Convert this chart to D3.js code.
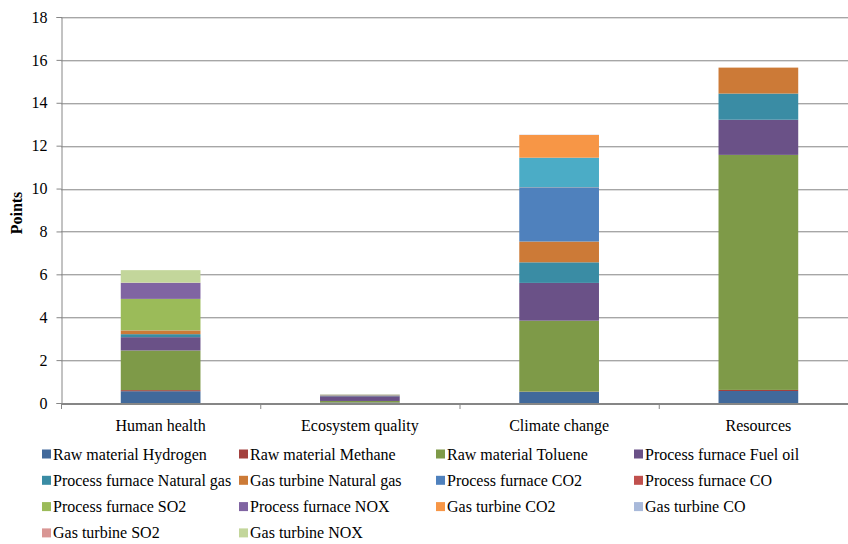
<!DOCTYPE html>
<html>
<head>
<meta charset="utf-8">
<script src="https://cdn.jsdelivr.net/npm/d3@7"></script>
<style>
html,body{margin:0;padding:0;background:#fff;}
svg{display:block;font-family:"Liberation Serif","Times New Roman",serif;}
</style>
</head>
<body>
<svg id="chart" width="848" height="544"></svg>
<script>
const categories = ["Human health", "Ecosystem quality", "Climate change", "Resources"];
const seriesNames = [
  "Raw material Hydrogen", "Raw material Methane", "Raw material Toluene", "Process furnace Fuel oil",
  "Process furnace Natural gas", "Gas turbine Natural gas", "Process furnace CO2", "Process furnace CO",
  "Process furnace SO2", "Process furnace NOX", "(unlabelled)", "Gas turbine CO2",
  "Gas turbine CO", "Gas turbine SO2", "Gas turbine NOX"
];
const inLegend = [true,true,true,true,true,true,true,true,true,true,false,true,true,true,true];
const seriesColors = [
  "#41699B", "#A3403E", "#7E9A48", "#6A5187",
  "#3A8CA4", "#CC7A37", "#4F81BD", "#C0504D",
  "#9BBB59", "#8064A2", "#4BACC6", "#F79646",
  "#A8B9DA", "#D99694", "#C3D69B"
];
// values per series: [Human health, Ecosystem quality, Climate change, Resources]
const hydrogen   = [0.55, 0.02, 0.52, 0.56];
const methane    = [0.05, 0.005, 0.01, 0.05];
const toluene    = [1.85, 0.07, 3.31, 10.96];
const fuelOil    = [0.62, 0.22, 1.76, 1.64];
const pfNatGas   = [0.14, 0.01, 0.96, 1.22];
const gtNatGas   = [0.17, 0.01, 0.97, 1.21];
const pfCO2      = [0, 0, 2.52, 0];
const pfCO       = [0.005, 0, 0.01, 0];
const pfSO2      = [1.47, 0.02, 0, 0];
const pfNOX      = [0.75, 0.03, 0, 0];
const unlabelled = [0, 0, 1.38, 0];
const gtCO2      = [0, 0, 1.06, 0];
const gtCO       = [0, 0, 0.01, 0];
const gtSO2      = [0.01, 0, 0, 0];
const gtNOX      = [0.58, 0.02, 0, 0];
const seriesValues = [hydrogen, methane, toluene, fuelOil, pfNatGas, gtNatGas, pfCO2, pfCO,
  pfSO2, pfNOX, unlabelled, gtCO2, gtCO, gtSO2, gtNOX];
const yTicks = [0, 2, 4, 6, 8, 10, 12, 14, 16, 18];
const yLabel = "Points";

const svg = d3.select("#chart");
const mLeft = 61, mRight = 858, mTop = 17, mBottom = 403;

const x = d3.scaleBand().domain(categories).range([mLeft, mRight]).padding(0);
const y = d3.scaleLinear().domain([0, 18]).range([mBottom, mTop]);
const barW = x.bandwidth() * 0.4;

const table = categories.map((c, i) => {
  const row = {category: c};
  seriesNames.forEach((s, j) => row[s] = seriesValues[j][i]);
  return row;
});
const stack = d3.stack().keys(seriesNames)(table);

// gridlines
const gridTicks = yTicks.filter(t => t > 0);
svg.append("g").selectAll("line").data(gridTicks).join("line")
  .attr("x1", mLeft).attr("x2", mRight)
  .attr("y1", d => Math.round(y(d)) + 0.5).attr("y2", d => Math.round(y(d)) + 0.5)
  .attr("stroke", "#A6A6A6").attr("stroke-width", 1);
svg.append("g").selectAll("line").data(gridTicks).join("line")
  .attr("x1", mLeft).attr("x2", mRight)
  .attr("y1", d => Math.round(y(d)) + 1.5).attr("y2", d => Math.round(y(d)) + 1.5)
  .attr("stroke", "#DDDDDD").attr("stroke-width", 1);

// bars
const color = d3.scaleOrdinal().domain(seriesNames).range(seriesColors);
svg.append("g").selectAll("g").data(stack).join("g")
  .attr("fill", d => color(d.key))
  .selectAll("rect").data(d => d).join("rect")
  .attr("x", d => x(d.data.category) + (x.bandwidth() - barW) / 2)
  .attr("width", barW)
  .attr("y", d => y(d[1]))
  .attr("height", d => Math.max(0, y(d[0]) - y(d[1])));

// y axis
const yAxis = d3.axisLeft(y).tickValues(yTicks).tickSize(5).tickPadding(9);
const gy = svg.append("g").attr("transform", `translate(${mLeft + 0.5},0)`).call(yAxis);
gy.select(".domain").attr("stroke", "#868686");
gy.selectAll(".tick line").attr("stroke", "#868686");
gy.selectAll(".tick text").attr("font-size", 16).attr("fill", "#000")
  .attr("font-family", "'Liberation Serif','Times New Roman',serif");

// x axis
const xAxis = d3.axisBottom(x).tickSize(0).tickPadding(16);
const gx = svg.append("g").attr("transform", `translate(0,${mBottom + 0.5})`).call(xAxis);
gx.select(".domain").attr("stroke", "#868686").attr("stroke-width", 2);
gx.selectAll(".tick text").attr("font-size", 16).attr("fill", "#000")
  .attr("font-family", "'Liberation Serif','Times New Roman',serif");
svg.append("g").selectAll("line").data(categories).join("line")
  .attr("x1", d => x(d) + 0.5).attr("x2", d => x(d) + 0.5)
  .attr("y1", mBottom).attr("y2", mBottom + 6)
  .attr("stroke", "#868686");

// y label
svg.append("text")
  .attr("transform", `translate(22,${(mTop + mBottom) / 2 + 3}) rotate(-90)`)
  .attr("text-anchor", "middle")
  .attr("font-size", 16).attr("font-weight", "bold")
  .text(yLabel);

// legend
const legendItems = seriesNames.map((s, i) => ({name: s, color: seriesColors[i], show: inLegend[i]}))
  .filter(d => d.show);
const colX = [42, 239, 436, 634];
const rowY = [454, 480.3, 506.6, 532.9];
const lg = svg.append("g").selectAll("g").data(legendItems).join("g")
  .attr("transform", (d, i) => `translate(${colX[i % 4]},${rowY[Math.floor(i / 4)]})`);
lg.append("rect").attr("x", 0).attr("y", -4.5).attr("width", 9).attr("height", 9)
  .attr("fill", d => d.color);
lg.append("text").attr("x", 11).attr("y", 5.5).attr("font-size", 16).attr("fill", "#000")
  .text(d => d.name);
</script>
</body>
</html>
